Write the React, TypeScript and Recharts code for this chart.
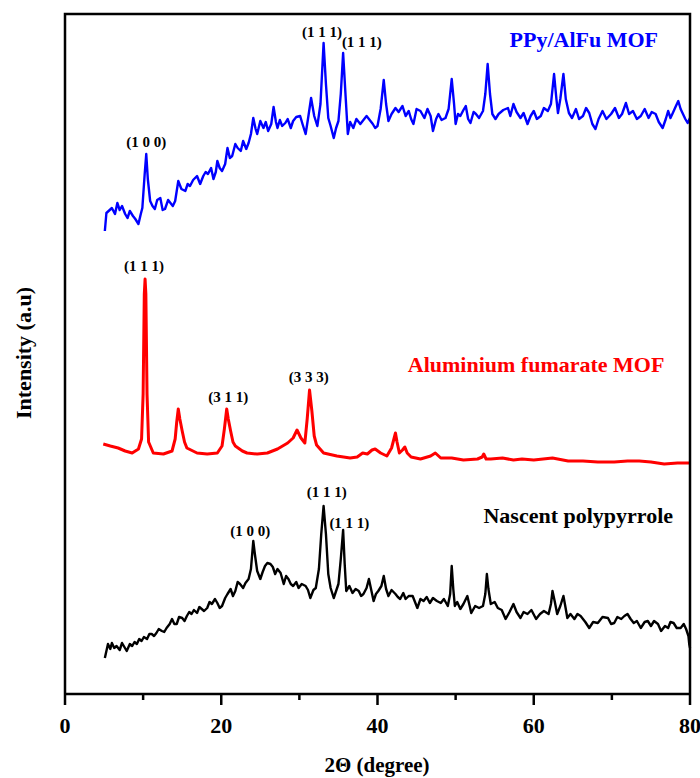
import React from 'react';
import { LineChart, Line, XAxis, YAxis, ReferenceDot } from 'recharts';

// 2θ (deg), intensity (a.u., already offset for stacking)
const ppyAlFu: [number, number][] = [
  [5.1, 463], [5.3, 481], [6.0, 486], [6.4, 480], [6.7, 491], [7.0, 484], [7.3, 488], [7.7, 480], [8.0, 476],
  [8.3, 483], [8.7, 478], [9.0, 475], [9.4, 470], [9.7, 480], [9.9, 486], [10.2, 520], [10.4, 540], [10.6, 515],
  [10.9, 493], [11.2, 488], [11.5, 485], [11.8, 494], [12.2, 496], [12.5, 484], [12.8, 485], [13.2, 494],
  [13.5, 491], [13.8, 488], [14.1, 493], [14.5, 513], [14.9, 505], [15.4, 503], [15.7, 510], [16.0, 508],
  [16.4, 514], [16.9, 518], [17.3, 510], [17.7, 518], [18.0, 522], [18.3, 520], [18.7, 526], [19.0, 515],
  [19.3, 522], [19.5, 533], [19.8, 526], [20.1, 523], [20.5, 530], [20.8, 546], [21.1, 536], [21.4, 538],
  [21.8, 550], [22.1, 546], [22.5, 543], [22.8, 553], [23.2, 545], [23.5, 551], [23.8, 560], [24.1, 576],
  [24.4, 565], [24.6, 560], [25.0, 573], [25.4, 566], [25.7, 572], [26.0, 563], [26.4, 570], [26.7, 587],
  [27.0, 572], [27.2, 566], [27.5, 574], [27.8, 568], [28.2, 571], [28.5, 575], [28.9, 566], [29.2, 573],
  [29.6, 577], [30.1, 578], [30.4, 570], [30.8, 560], [31.1, 575], [31.5, 596], [31.9, 578], [32.3, 568],
  [32.7, 590], [33.1, 651], [33.4, 610], [33.7, 576], [34.0, 568], [34.4, 556], [34.7, 566], [35.0, 573],
  [35.3, 600], [35.6, 641], [35.9, 600], [36.2, 560], [36.5, 572], [36.9, 566], [37.3, 575], [37.8, 570],
  [38.2, 574], [38.6, 578], [39.0, 574], [39.4, 570], [39.7, 566], [40.0, 568], [40.4, 585], [40.8, 614],
  [41.1, 590], [41.4, 573], [41.8, 580], [42.3, 586], [42.7, 582], [43.2, 588], [43.6, 578], [44.0, 583],
  [44.3, 575], [44.6, 570], [45.0, 585], [45.5, 583], [46.0, 576], [46.4, 585], [46.8, 578], [47.1, 563],
  [47.5, 575], [47.8, 580], [48.2, 574], [48.7, 576], [49.1, 585], [49.5, 615], [49.8, 590], [50.0, 570],
  [50.3, 580], [50.6, 578], [51.0, 584], [51.3, 588], [51.6, 575], [51.9, 571], [52.3, 582], [52.6, 580],
  [53.0, 576], [53.5, 583], [53.8, 600], [54.1, 630], [54.4, 600], [54.7, 580], [55.1, 575], [55.5, 580],
  [56.1, 584], [56.7, 586], [57.0, 578], [57.4, 590], [57.8, 582], [58.3, 576], [58.7, 581], [59.2, 570],
  [59.6, 578], [60.0, 583], [60.4, 575], [60.9, 578], [61.3, 586], [61.8, 583], [62.2, 590], [62.6, 620],
  [62.9, 595], [63.1, 581], [63.4, 595], [63.8, 620], [64.1, 595], [64.5, 581], [64.9, 576], [65.4, 585],
  [65.8, 575], [66.3, 578], [66.7, 586], [67.1, 581], [67.5, 570], [67.9, 565], [68.3, 575], [68.8, 583],
  [69.3, 575], [69.9, 580], [70.4, 586], [70.9, 576], [71.3, 580], [71.8, 591], [72.2, 580], [72.7, 583],
  [73.2, 575], [73.7, 578], [74.2, 585], [74.7, 576], [75.1, 582], [75.6, 580], [76.0, 572], [76.5, 566],
  [76.9, 575], [77.2, 583], [77.5, 576], [77.8, 581], [78.2, 588], [78.5, 593], [78.8, 585], [79.1, 580],
  [79.4, 575], [79.7, 571], [80.0, 576],
];

const alFumarate: [number, number][] = [
  [4.9, 250], [5.8, 248], [6.8, 246], [7.7, 243], [8.6, 241], [9.4, 245], [9.8, 255], [10.0, 300], [10.15, 400],
  [10.25, 415], [10.35, 400], [10.5, 300], [10.7, 252], [11.3, 241], [12.6, 240], [13.7, 243], [14.1, 255],
  [14.3, 272], [14.5, 285], [14.7, 275], [15.0, 263], [15.3, 252], [15.6, 246], [16.9, 241], [18.2, 240],
  [19.5, 241], [20.1, 248], [20.4, 265], [20.7, 285], [20.9, 275], [21.2, 263], [21.5, 252], [21.8, 248],
  [22.7, 243], [23.3, 241], [24.6, 240], [25.9, 241], [27.2, 245], [28.5, 251], [29.2, 256], [29.7, 264],
  [30.2, 256], [30.7, 251], [31.0, 275], [31.3, 304], [31.6, 283], [31.9, 258], [32.2, 249], [33.1, 241],
  [34.8, 238], [36.5, 236], [37.4, 237], [38.1, 241], [38.7, 240], [39.3, 244], [39.7, 245], [40.4, 241],
  [41.2, 238], [41.8, 246], [42.1, 255], [42.3, 261], [42.5, 252], [42.8, 241], [43.2, 244], [43.5, 247],
  [43.8, 241], [44.3, 237], [45.5, 235], [46.8, 238], [47.4, 241], [48.1, 236], [49.5, 236], [51.0, 234],
  [52.8, 235], [53.4, 237], [53.6, 240], [53.9, 235], [54.5, 235], [56.0, 236], [57.4, 234], [58.5, 235],
  [60.0, 234], [61.2, 235], [62.4, 236], [64.4, 233], [66.3, 233], [68.2, 232], [70.3, 232], [72.0, 233],
  [73.5, 233], [75.0, 232], [76.7, 230], [78.4, 231], [80.0, 231],
];

const polypyrrole: [number, number][] = [
  [5.1, 36], [5.5, 50], [5.8, 45], [6.0, 51], [6.3, 46], [6.6, 48], [7.0, 44], [7.3, 51], [7.6, 47], [7.9, 43],
  [8.3, 50], [8.6, 48], [8.9, 52], [9.2, 50], [9.5, 55], [9.8, 53], [10.1, 57], [10.5, 55], [10.8, 60], [11.1, 60],
  [11.4, 58], [11.7, 61], [12.0, 65], [12.4, 63], [12.7, 62], [13.0, 66], [13.4, 70], [13.7, 75], [14.0, 70],
  [14.3, 70], [14.6, 77], [15.0, 76], [15.3, 73], [15.6, 78], [15.9, 82], [16.2, 80], [16.5, 84], [16.9, 81],
  [17.2, 87], [17.5, 85], [17.8, 83], [18.2, 86], [18.5, 92], [18.8, 90], [19.2, 95], [19.5, 91], [19.8, 86],
  [20.1, 88], [20.5, 96], [20.8, 100], [21.2, 105], [21.5, 98], [21.8, 103], [22.1, 112], [22.4, 110],
  [22.8, 106], [23.1, 111], [23.5, 115], [23.8, 125], [24.1, 153], [24.3, 140], [24.6, 123], [25.0, 115],
  [25.3, 122], [25.6, 128], [25.9, 131], [26.3, 130], [26.6, 127], [26.9, 120], [27.2, 125], [27.6, 121],
  [28.0, 110], [28.3, 118], [28.6, 115], [28.9, 110], [29.2, 108], [29.6, 112], [29.9, 106], [30.3, 110],
  [30.8, 108], [31.1, 104], [31.4, 96], [31.8, 104], [32.1, 106], [32.5, 125], [32.8, 160], [33.1, 188],
  [33.4, 160], [33.7, 120], [34.0, 106], [34.4, 96], [34.7, 103], [35.0, 110], [35.3, 135], [35.6, 164],
  [35.8, 130], [36.0, 103], [36.4, 108], [36.8, 101], [37.2, 105], [37.6, 103], [37.9, 98], [38.2, 100],
  [38.6, 106], [38.9, 115], [39.2, 104], [39.5, 93], [39.8, 100], [40.1, 103], [40.5, 108], [40.8, 118],
  [41.1, 105], [41.4, 98], [41.8, 104], [42.3, 100], [42.6, 97], [42.9, 95], [43.3, 101], [43.6, 95],
  [44.0, 98], [44.5, 98], [44.8, 92], [45.1, 86], [45.5, 95], [45.9, 93], [46.3, 97], [46.7, 91], [47.1, 96],
  [47.6, 93], [48.1, 91], [48.5, 95], [49.0, 88], [49.3, 100], [49.5, 128], [49.7, 105], [49.9, 88],
  [50.2, 92], [50.6, 85], [51.0, 90], [51.5, 98], [51.8, 88], [52.0, 81], [52.5, 88], [53.0, 86], [53.5, 88],
  [53.8, 100], [54.0, 120], [54.2, 105], [54.5, 90], [55.0, 92], [55.4, 86], [55.9, 84], [56.4, 75],
  [56.9, 82], [57.4, 90], [57.8, 82], [58.3, 76], [58.7, 82], [59.2, 80], [59.7, 84], [60.3, 75], [60.8, 80],
  [61.3, 83], [61.9, 80], [62.2, 90], [62.4, 103], [62.7, 92], [63.0, 80], [63.4, 88], [63.8, 98], [64.1, 85],
  [64.3, 76], [64.7, 80], [65.2, 75], [65.6, 80], [66.0, 78], [66.6, 72], [67.1, 66], [67.6, 72], [68.2, 71],
  [68.8, 77], [69.5, 76], [69.9, 70], [70.3, 71], [70.7, 77], [71.2, 75], [71.6, 78], [72.0, 80], [72.4, 75],
  [72.8, 71], [73.2, 73], [73.7, 66], [74.2, 72], [74.6, 73], [75.0, 68], [75.4, 73], [75.9, 70], [76.3, 63],
  [76.8, 68], [77.2, 66], [77.5, 72], [77.9, 71], [78.3, 66], [78.8, 66], [79.2, 70], [79.5, 65], [79.8, 58],
  [79.9, 50], [80.0, 46],
];

const xTicks = [0, 10, 20, 30, 40, 50, 60, 70, 80];
const xLabelTicks = [0, 20, 40, 60, 80];

// hkl tags: [2θ, intensity, text]
const peakTags: [number, number, string][] = [
  [10.4, 547, '(1 0 0)'],
  [32.9, 657, '(1 1 1)'],
  [38.0, 647, '(1 1 1)'],
  [10.1, 423, '(1 1 1)'],
  [20.9, 292, '(3 1 1)'],
  [31.2, 312, '(3 3 3)'],
  [23.7, 158, '(1 0 0)'],
  [33.5, 197, '(1 1 1)'],
  [36.4, 166, '(1 1 1)'],
];

const seriesNames: [number, number, string, string][] = [
  [66.4, 647, 'PPy/AlFu MOF', '#0000ff'],
  [60.3, 322, 'Aluminium fumarate MOF', '#ff0000'],
  [65.7, 171, 'Nascent polypyrrole', '#000000'],
];

const toRows = (arr: [number, number][]) => arr.map(([x, v]) => ({ x, v }));

const FONT = "'Liberation Serif', 'Times New Roman', serif";
const W = 700;
const H = 778;
const M = { top: 14, right: 10, left: 65 };
const XAXIS_H = 84;

const BottomTick = (props: any) => {
  const { x, y, payload } = props;
  const major = xLabelTicks.includes(payload.value);
  return (
    <g>
      <line x1={x} x2={x} y1={y} y2={y + (major ? 11 : 6)} stroke="#000" strokeWidth={2.5} />
      {major && (
        <text x={x} y={y + 39} textAnchor="middle" fontFamily={FONT} fontWeight="bold" fontSize={22} fill="#000">
          {payload.value}
        </text>
      )}
    </g>
  );
};

const tagShape = (text: string, size: number, color: string) => (p: any) => (
  <text x={p.cx} y={p.cy} textAnchor="middle" fontFamily={FONT} fontWeight="bold" fontSize={size} fill={color}>
    {text}
  </text>
);

export default function App() {
  const left = M.left;
  const top = M.top;
  const right = W - M.right;
  const bottom = H - XAXIS_H;
  return (
    <div style={{ position: 'absolute', left: 0, top: 0, width: W, height: H, background: '#fff' }}>
      <LineChart width={W} height={H} margin={{ top: M.top, right: M.right, bottom: 0, left: M.left }}>
        <XAxis
          xAxisId="b"
          dataKey="x"
          type="number"
          domain={[0, 80]}
          ticks={xTicks}
          interval={0}
          height={XAXIS_H}
          tickSize={0}
          tickMargin={0}
          tickLine={false}
          tick={<BottomTick />}
          axisLine={{ stroke: '#000', strokeWidth: 2.5 }}
        />
        <YAxis yAxisId="l" type="number" domain={[0, 680]} hide />
        <Line xAxisId="b" yAxisId="l" data={toRows(polypyrrole)} dataKey="v" stroke="#000000" strokeWidth={2.4}
          dot={false} isAnimationActive={false} strokeLinejoin="round" />
        <Line xAxisId="b" yAxisId="l" data={toRows(alFumarate)} dataKey="v" stroke="#ff0000" strokeWidth={3}
          dot={false} isAnimationActive={false} strokeLinejoin="round" />
        <Line xAxisId="b" yAxisId="l" data={toRows(ppyAlFu)} dataKey="v" stroke="#0000ff" strokeWidth={2.4}
          dot={false} isAnimationActive={false} strokeLinejoin="round" />
        {peakTags.map(([x, y, t], i) => (
          <ReferenceDot key={`p${i}`} xAxisId="b" yAxisId="l" x={x} y={y} r={0} ifOverflow="visible"
            shape={tagShape(t, 15, '#000')} />
        ))}
        {seriesNames.map(([x, y, t, c], i) => (
          <ReferenceDot key={`s${i}`} xAxisId="b" yAxisId="l" x={x} y={y} r={0} ifOverflow="visible"
            shape={tagShape(t, 22, c)} />
        ))}
      </LineChart>
      <svg width={W} height={H} style={{ position: 'absolute', left: 0, top: 0, pointerEvents: 'none' }}>
        <polyline points={`${left},${bottom} ${left},${top} ${right},${top} ${right},${bottom}`}
          fill="none" stroke="#000" strokeWidth={2.5} />
        <text x={377} y={772} textAnchor="middle" fontFamily={FONT} fontWeight="bold" fontSize={21} fill="#000">
          2Θ (degree)
        </text>
        <text x={31} y={353} textAnchor="middle" fontFamily={FONT} fontWeight="bold" fontSize={22} fill="#000"
          transform="rotate(-90, 31, 353)">
          Intensity (a.u)
        </text>
      </svg>
    </div>
  );
}
